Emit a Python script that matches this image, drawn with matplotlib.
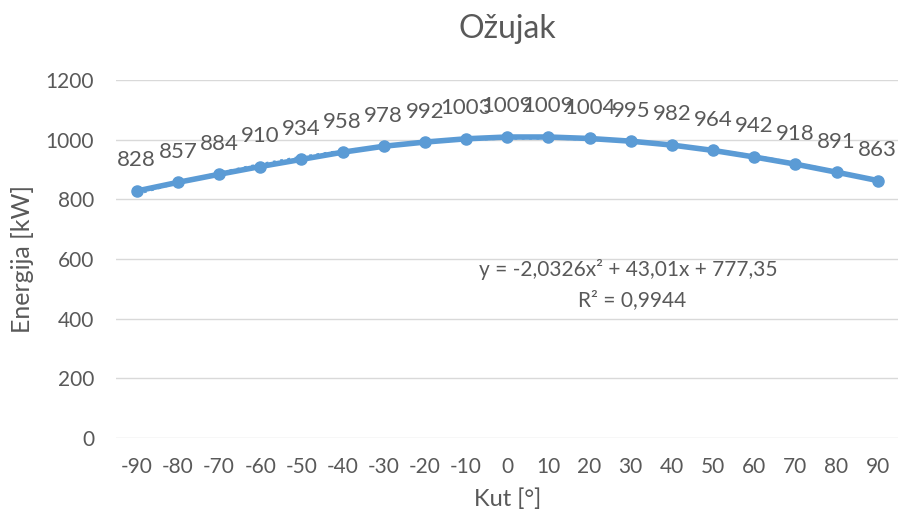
import matplotlib.pyplot as plt
import numpy as np

angles = [-90, -80, -70, -60, -50, -40, -30, -20, -10, 0, 10, 20, 30, 40, 50, 60, 70, 80, 90]
energy = [828, 857, 884, 910, 934, 958, 978, 992, 1003, 1009, 1009, 1004, 995, 982, 964, 942, 918, 891, 863]
y_ticks = [0, 200, 400, 600, 800, 1000, 1200]

blue = '#5B9BD5'
grey = '#595959'
plt.rcParams['font.family'] = ['Lato', 'DejaVu Sans']

fig = plt.figure(figsize=(9.01, 5.23), dpi=100)
ax = fig.add_axes([0.129, 0.1625, 0.868, 0.6845])

x = np.arange(1, len(angles) + 1)
ax.plot(x, energy, color=blue, lw=4, marker='o', ms=8, zorder=3)

# polynomial trendline (Excel style, fitted on category index)
coef = np.polyfit(x, energy, 2)
xs = np.linspace(1, len(angles), 200)
ax.plot(xs, np.polyval(coef, xs), color=blue, lw=2, ls=':', zorder=4)

for xi, v in zip(x, energy):
    ax.annotate(str(v), (xi, v), xytext=(0, 22), textcoords='offset points',
                ha='center', va='center', fontsize=16, color=grey)

ax.set_xlim(0.5, len(angles) + 0.5)
ax.set_ylim(0, 1200)
ax.set_yticks(y_ticks)
ax.set_xticks(x)
ax.set_xticklabels([str(a) for a in angles])
ax.grid(axis='y', color='#D9D9D9', lw=1)
ax.set_axisbelow(True)
for s in ax.spines.values():
    s.set_visible(False)
ax.tick_params(length=0, labelsize=15, colors=grey)
ax.tick_params(axis='y', pad=16)
ax.tick_params(axis='x', pad=14)

ax.set_title('Ožujak', fontsize=23, color=grey, pad=30)
ax.set_xlabel('Kut [°]', fontsize=17, color=grey, labelpad=8)
ax.set_ylabel('Energija [kW]', fontsize=18, color=grey, labelpad=8)

ax.text(0.655, 0.47, 'y = -2,0326x² + 43,01x + 777,35', transform=ax.transAxes,
        ha='center', va='center', fontsize=15, color=grey)
ax.text(0.66, 0.385, 'R² = 0,9944', transform=ax.transAxes,
        ha='center', va='center', fontsize=15, color=grey)

fig.savefig('out.png', dpi=100)
